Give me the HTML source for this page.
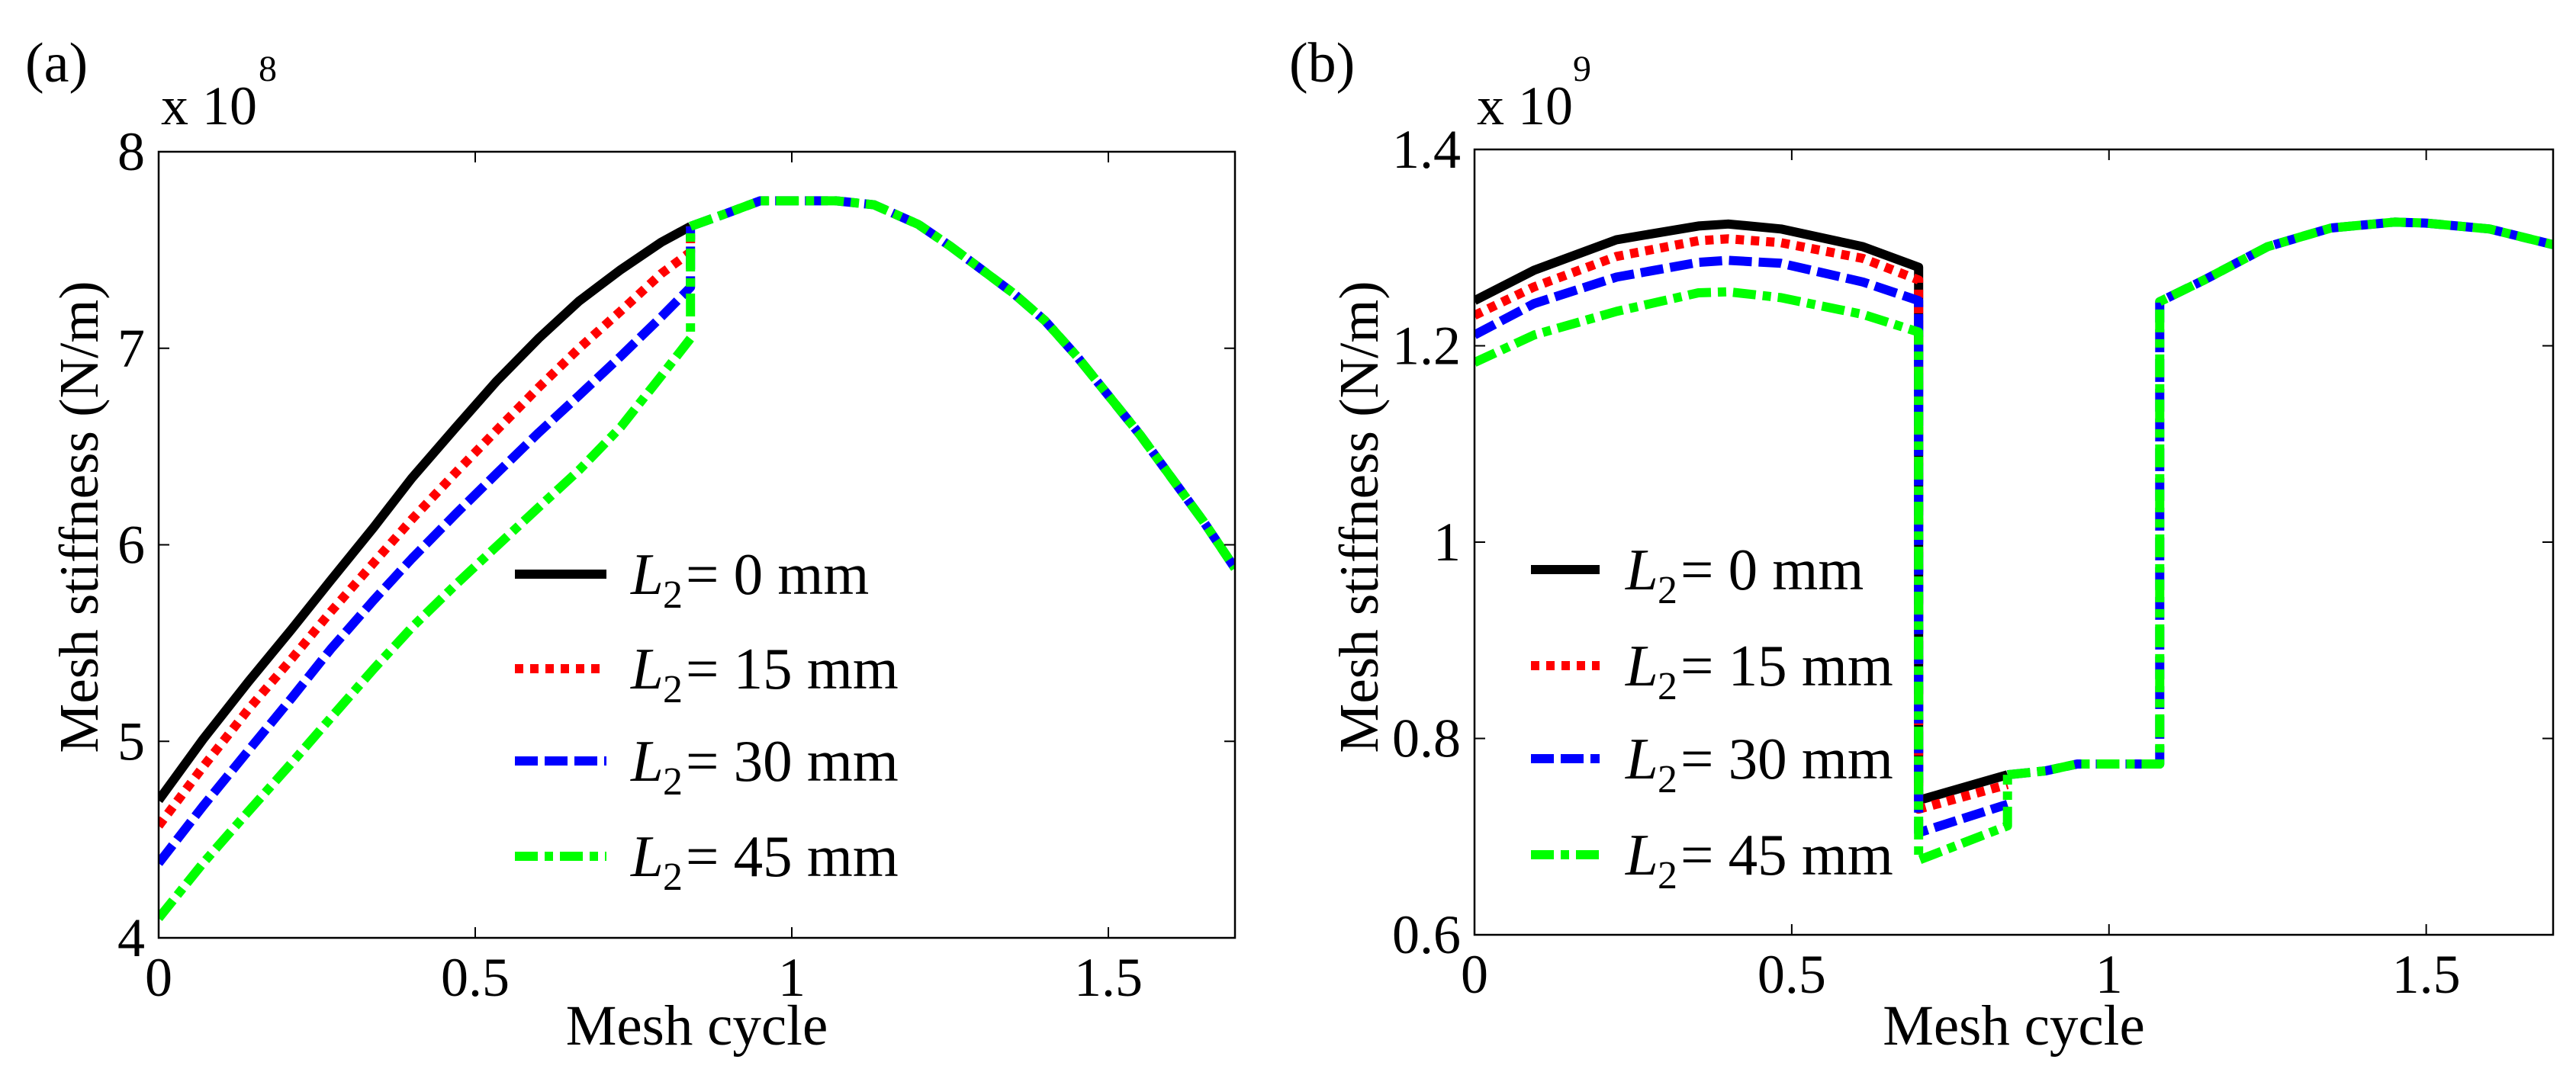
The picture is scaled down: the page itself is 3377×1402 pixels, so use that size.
<!DOCTYPE html>
<html><head><meta charset="utf-8"><style>
html,body{margin:0;padding:0;background:#fff;}
svg{display:block;}
</style></head><body>
<svg id="fig" width="3377" height="1402" viewBox="0 0 3377 1402" xmlns="http://www.w3.org/2000/svg" font-family="'Liberation Serif', 'Times New Roman', serif"></svg>
<script>
// ---- data panel (a), x in mesh cycle, y in 1e8 N/m ----
const aBlackX=[0,0.07,0.141,0.21,0.272,0.34,0.40,0.47,0.533,0.60,0.664,0.73,0.794,0.84];
const aBlackY=[4.70,5.01,5.30,5.57,5.82,6.09,6.34,6.60,6.83,7.05,7.24,7.40,7.54,7.62];
const aRedX=[0,0.07,0.141,0.21,0.272,0.34,0.40,0.47,0.533,0.60,0.664,0.73,0.794,0.84];
const aRedY=[4.57,4.87,5.16,5.42,5.66,5.91,6.13,6.37,6.58,6.80,7.00,7.19,7.38,7.49];
const aBlueX=[0,0.07,0.141,0.21,0.272,0.34,0.40,0.47,0.533,0.60,0.664,0.73,0.794,0.84];
const aBlueY=[4.38,4.67,4.95,5.22,5.47,5.72,5.93,6.16,6.36,6.57,6.76,6.96,7.16,7.31];
const aGreenX=[0,0.07,0.141,0.21,0.272,0.34,0.40,0.47,0.533,0.60,0.664,0.73,0.794,0.84];
const aGreenY=[4.10,4.38,4.64,4.89,5.12,5.37,5.58,5.80,5.99,6.19,6.38,6.60,6.86,7.05];
const aCommonX=[0.84,0.90,0.95,1.07,1.13,1.20,1.25,1.30,1.35,1.40,1.45,1.50,1.55,1.60,1.65,1.70];
const aCommonY=[7.62,7.69,7.75,7.75,7.73,7.63,7.52,7.40,7.28,7.14,6.96,6.76,6.56,6.34,6.12,5.88];
// ---- data panel (b), y in 1e9 N/m ----
const bHighX=[0,0.094,0.224,0.353,0.40,0.483,0.612,0.70];
const bBlackHighY=[1.246,1.277,1.308,1.322,1.324,1.319,1.301,1.280];
const bRedHighY=[1.231,1.260,1.291,1.307,1.309,1.305,1.289,1.267];
const bBlueHighY=[1.211,1.243,1.270,1.285,1.287,1.284,1.265,1.246];
const bGreenHighY=[1.183,1.211,1.235,1.254,1.255,1.249,1.232,1.214];
const bLowX=[0.70,0.84];
const bBlackLowY=[0.737,0.763];
const bRedLowY=[0.728,0.753];
const bBlueLowY=[0.704,0.733];
const bGreenLowY=[0.676,0.711];
const bCommonX=[0.84,0.90,0.95,1.08,1.08,1.15,1.25,1.35,1.45,1.50,1.60,1.70];
const bCommonY=[0.763,0.767,0.774,0.774,1.245,1.267,1.301,1.320,1.326,1.325,1.319,1.303];
const xTicks=[0,0.5,1,1.5];
const xTickLabels=["0","0.5","1","1.5"];
const aYTicks=[4,5,6,7,8];
const aYTickLabels=["4","5","6","7","8"];
const bYTicks=[0.6,0.8,1.0,1.2,1.4];
const bYTickLabels=["0.6","0.8","1","1.2","1.4"];
const legendLabels=["0","15","30","45"];

const NS="http://www.w3.org/2000/svg";
const FF="'Liberation Serif', 'Times New Roman', serif";
const svg=document.getElementById('fig');
function mk(tag,attrs,parent){const e=document.createElementNS(NS,tag);for(const k in attrs)e.setAttribute(k,attrs[k]);if(tag==='text')e.setAttribute('font-family',FF);(parent||svg).appendChild(e);return e;}
const styles=[
 {c:"#000",d:""},
 {c:"#ff0000",d:"11,9"},
 {c:"#0000ff",d:"30,9"},
 {c:"#00ff00",d:"30,9,11,9"}
];
const names=["black","red","blue","green"];

function panel(cfg){
 const g=mk('g',{});
 
 
 const sx=v=>cfg.L+(v-0)/(1.7)*(cfg.R-cfg.L);
 const sy=v=>cfg.B-(v-cfg.ymin)/(cfg.ymax-cfg.ymin)*(cfg.B-cfg.T);
 const cid='clip-'+cfg.name;
 const cp=mk('clipPath',{id:cid},g);
 mk('rect',{x:cfg.L,y:cfg.T,width:cfg.R-cfg.L,height:cfg.B-cfg.T},cp);
 const sg=mk('g',{'clip-path':'url(#'+cid+')'},g);
 cfg.series.forEach((s,i)=>{
  const pts=s.map(seg=>seg.x.map((x,j)=>sx(x).toFixed(1)+','+sy(seg.y[j]).toFixed(1)).join(' ')).join(' ');
  const p=mk('polyline',{points:pts,fill:'none',stroke:styles[i].c,'stroke-width':12,'stroke-linejoin':'round'},sg);
  if(styles[i].d)p.setAttribute('stroke-dasharray',styles[i].d);
  
  
 });
 cfg.common.forEach((col)=>{
  const pts=cfg.commonX.map((x,j)=>sx(x).toFixed(1)+','+sy(cfg.commonY[j]).toFixed(1)).join(' ');
  const p=mk('polyline',{points:pts,fill:'none',stroke:styles[col].c,'stroke-width':12,'stroke-linejoin':'round'},sg);
  if(styles[col].d)p.setAttribute('stroke-dasharray',styles[col].d);
  
  
 });
 const box=mk('rect',{x:cfg.L,y:cfg.T,width:cfg.R-cfg.L,height:cfg.B-cfg.T,fill:'none',stroke:'#000','stroke-width':2.5},g);
 
 
 xTicks.forEach((t,i)=>{
  const x=sx(t);
  mk('line',{x1:x,y1:cfg.B,x2:x,y2:cfg.B-14,stroke:'#000','stroke-width':2},g);
  mk('line',{x1:x,y1:cfg.T,x2:x,y2:cfg.T+14,stroke:'#000','stroke-width':2},g);
  const tx=mk('text',{x:x,y:cfg.B+76,'font-size':72,'text-anchor':'middle'},g);
  tx.textContent=xTickLabels[i];
  
  
 });
 cfg.yTicks.forEach((t,i)=>{
  const y=sy(t);
  mk('line',{x1:cfg.L,y1:y,x2:cfg.L+14,y2:y,stroke:'#000','stroke-width':2},g);
  mk('line',{x1:cfg.R,y1:y,x2:cfg.R-14,y2:y,stroke:'#000','stroke-width':2},g);
  const ty=mk('text',{x:cfg.L-18,y:y+24,'font-size':72,'text-anchor':'end'},g);
  ty.textContent=cfg.yLabels[i];
  
  
 });
 const xl=mk('text',{x:(cfg.L+cfg.R)/2,y:1370,'font-size':75,'text-anchor':'middle'},g);
 xl.textContent='Mesh cycle';
 
 
 const yl=mk('text',{transform:'translate('+cfg.ylx+',678) rotate(-90)','font-size':73,'text-anchor':'middle'},g);
 yl.textContent='Mesh stiffness (N/m)';
 
 
 const ex=mk('text',{x:cfg.L+3,y:163,'font-size':72},g);
 ex.textContent='x 10';
 
 
 const es=mk('text',{x:cfg.expX,y:106,'font-size':48},g);
 es.textContent=cfg.exp;
 
 
 const pl=mk('text',{x:cfg.plx,y:107,'font-size':74},g);
 pl.textContent=cfg.panelLabel;
 
 
 const lg=mk('g',{},g);
 
 
 cfg.legY.forEach((y,i)=>{
  const e=mk('g',{},lg);
  
  
  const l=mk('line',{x1:cfg.legX1,y1:y,x2:cfg.legX2,y2:y,stroke:styles[i].c,'stroke-width':12},e);
  if(styles[i].d)l.setAttribute('stroke-dasharray',styles[i].d);
  const t1=mk('text',{x:cfg.legTX,y:y+26,'font-size':77,'font-style':'italic'},e);
  t1.textContent='L';
  const t2=mk('text',{x:cfg.legTX+42,y:y+44,'font-size':52},e);
  t2.textContent='2';
  const t3=mk('text',{x:cfg.legTX+72,y:y+26,'font-size':77},e);
  t3.textContent='= '+legendLabels[i]+' mm';
 });
}

panel({name:'panel-a',L:208,R:1619,T:199,B:1230,ymin:4,ymax:8,yTicks:aYTicks,yLabels:aYTickLabels,
 series:[
  [{x:aBlackX,y:aBlackY}],
  [{x:aRedX.concat([0.84]),y:aRedY.concat([aBlackY[aBlackY.length-1]])}],
  [{x:aBlueX.concat([0.84]),y:aBlueY.concat([aBlackY[aBlackY.length-1]])}],
  [{x:aGreenX.concat([0.84]),y:aGreenY.concat([aBlackY[aBlackY.length-1]])}]
 ],
 common:[2,3],commonX:aCommonX,commonY:aCommonY,
 ylx:128,expX:339,exp:'8',plx:33,panelLabel:'(a)',
 legY:[753,877,998,1123],legX1:675,legX2:795,legTX:827});

panel({name:'panel-b',L:1933,R:3347,T:196,B:1226,ymin:0.6,ymax:1.4,yTicks:bYTicks,yLabels:bYTickLabels,
 series:[
  [{x:bHighX.concat(bLowX),y:bBlackHighY.concat(bBlackLowY)}],
  [{x:bHighX.concat(bLowX),y:bRedHighY.concat(bRedLowY)}],
  [{x:bHighX.concat(bLowX),y:bBlueHighY.concat(bBlueLowY)}],
  [{x:bHighX.concat(bLowX,[0.84]),y:bGreenHighY.concat(bGreenLowY,[bBlackLowY[1]])}]
 ],
 common:[2,3],commonX:bCommonX,commonY:bCommonY,
 ylx:1806,expX:2062,exp:'9',plx:1690,panelLabel:'(b)',
 legY:[747,873,995,1121],legX1:2007,legX2:2097,legTX:2131});
</script>
</body></html>
